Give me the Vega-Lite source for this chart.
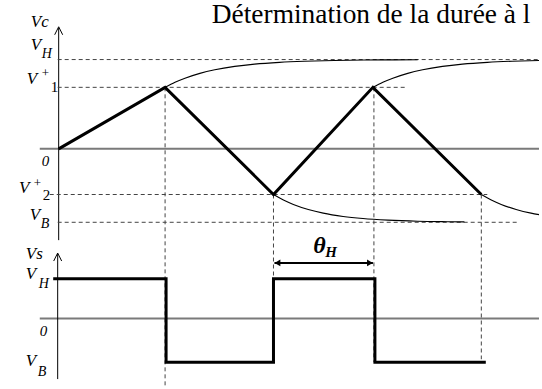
{
  "$schema": "https://vega.github.io/schema/vega-lite/v6.json",
  "width": 542,
  "height": 389,
  "autosize": {"type": "fit", "contains": "padding"},
  "padding": 0,
  "background": "white",
  "config": {"view": {"stroke": null}},
  "datasets": {
    "zeroLines": [
      {"x": -19, "x2": 483, "y": 0},
      {"x": -19, "x2": 483, "y": -171}
    ],
    "axisLines": [
      {"x": 0, "y": -92, "y2": 122},
      {"x": -1, "y": -232, "y2": -106}
    ],
    "axisTips": [
      {"x": 0, "y": 119},
      {"x": -1, "y": -109}
    ],
    "levels": [
      {"name": "VH", "x": -1, "x2": 483, "y": 90},
      {"name": "V1", "x": -1, "x2": 348, "y": 62},
      {"name": "V2", "x": -9, "x2": 431, "y": -46},
      {"name": "VB", "x": -1, "x2": 463, "y": -74}
    ],
    "switchTimes": [
      {"x": 107, "y": 62, "y2": -241},
      {"x": 216, "y": -46, "y2": -131},
      {"x": 317, "y": 62, "y2": -215},
      {"x": 425, "y": -46, "y2": -212}
    ],
    "vc": [
      {"i": 0, "x": 0, "y": 0},
      {"i": 1, "x": 107, "y": 62},
      {"i": 2, "x": 216, "y": -46},
      {"i": 3, "x": 316, "y": 62},
      {"i": 4, "x": 425, "y": -46}
    ],
    "charge": [
      {"id": "A", "i": 0, "x": 107, "y": 62},
      {"id": "A", "i": 1, "x": 117, "y": 67.1},
      {"id": "A", "i": 2, "x": 127, "y": 71.2},
      {"id": "A", "i": 3, "x": 142, "y": 76.1},
      {"id": "A", "i": 4, "x": 157, "y": 79.7},
      {"id": "A", "i": 5, "x": 177, "y": 83.1},
      {"id": "A", "i": 6, "x": 197, "y": 85.4},
      {"id": "A", "i": 7, "x": 222, "y": 87.2},
      {"id": "A", "i": 8, "x": 247, "y": 88.3},
      {"id": "A", "i": 9, "x": 277, "y": 89.1},
      {"id": "A", "i": 10, "x": 307, "y": 89.5},
      {"id": "A", "i": 11, "x": 337, "y": 89.7},
      {"id": "A", "i": 12, "x": 361, "y": 89.8},
      {"id": "B", "i": 0, "x": 316, "y": 62},
      {"id": "B", "i": 1, "x": 326, "y": 67.1},
      {"id": "B", "i": 2, "x": 336, "y": 71.2},
      {"id": "B", "i": 3, "x": 351, "y": 76.1},
      {"id": "B", "i": 4, "x": 366, "y": 79.7},
      {"id": "B", "i": 5, "x": 386, "y": 83.1},
      {"id": "B", "i": 6, "x": 406, "y": 85.4},
      {"id": "B", "i": 7, "x": 431, "y": 87.2},
      {"id": "B", "i": 8, "x": 456, "y": 88.3},
      {"id": "B", "i": 9, "x": 483, "y": 89.0},
      {"id": "C", "i": 0, "x": 216, "y": -46},
      {"id": "C", "i": 1, "x": 226, "y": -51.6},
      {"id": "C", "i": 2, "x": 236, "y": -56.0},
      {"id": "C", "i": 3, "x": 251, "y": -61.1},
      {"id": "C", "i": 4, "x": 266, "y": -64.8},
      {"id": "C", "i": 5, "x": 286, "y": -68.1},
      {"id": "C", "i": 6, "x": 306, "y": -70.2},
      {"id": "C", "i": 7, "x": 331, "y": -71.8},
      {"id": "C", "i": 8, "x": 361, "y": -72.9},
      {"id": "C", "i": 9, "x": 391, "y": -73.4},
      {"id": "C", "i": 10, "x": 408, "y": -73.6},
      {"id": "D", "i": 0, "x": 425, "y": -46},
      {"id": "D", "i": 1, "x": 435, "y": -51.6},
      {"id": "D", "i": 2, "x": 445, "y": -56.0},
      {"id": "D", "i": 3, "x": 460, "y": -61.1},
      {"id": "D", "i": 4, "x": 475, "y": -64.8},
      {"id": "D", "i": 5, "x": 483, "y": -66.3}
    ],
    "vs": [
      {"i": 0, "x": -4, "y": -131},
      {"i": 1, "x": 108, "y": -131},
      {"i": 2, "x": 108, "y": -215},
      {"i": 3, "x": 216, "y": -215},
      {"i": 4, "x": 216, "y": -131},
      {"i": 5, "x": 318, "y": -131},
      {"i": 6, "x": 318, "y": -215},
      {"i": 7, "x": 428, "y": -215}
    ],
    "span": [{"x": 217, "x2": 316, "y": -115}],
    "spanEnds": [
      {"x": 220, "y": -115, "dir": "left"},
      {"x": 313, "y": -115, "dir": "right"}
    ],
    "mainLabels": [
      {"text": "Vc", "x": -28, "y": 123},
      {"text": "V", "x": -28, "y": 100},
      {"text": "V", "x": -32, "y": 65},
      {"text": "V", "x": -40, "y": -44},
      {"text": "V", "x": -29, "y": -72},
      {"text": "Vs", "x": -33, "y": -111},
      {"text": "V", "x": -33, "y": -131},
      {"text": "V", "x": -33, "y": -219}
    ],
    "zeroLabels": [
      {"text": "0", "x": -17, "y": -17},
      {"text": "0", "x": -19, "y": -189}
    ],
    "subLabels": [
      {"text": "H", "x": -17, "y": 92},
      {"text": "B", "x": -18, "y": -80},
      {"text": "H", "x": -20, "y": -140},
      {"text": "B", "x": -21, "y": -229}
    ],
    "plusLabels": [
      {"text": "+", "x": -17, "y": 72},
      {"text": "+", "x": -25, "y": -38}
    ],
    "indexLabels": [
      {"text": "1", "x": -8, "y": 57},
      {"text": "2", "x": -16, "y": -52}
    ],
    "title": [{"text": "Détermination de la durée à l", "x": 154, "y": 127}],
    "theta": [{"text": "θ", "x": 256, "y": -105}],
    "thetaSub": [{"text": "H", "x": 268, "y": -109}]
  },
  "encoding": {
    "x": {"field": "x", "type": "quantitative", "scale": {"domain": [-59, 483], "nice": false, "zero": false}, "axis": null},
    "y": {"field": "y", "type": "quantitative", "scale": {"domain": [-241, 148], "nice": false, "zero": false}, "axis": null}
  },
  "layer": [
    {
      "data": {"name": "zeroLines"},
      "mark": {"type": "rule", "color": "#7a7a7a", "strokeWidth": 2},
      "encoding": {"x2": {"field": "x2"}}
    },
    {
      "data": {"name": "axisLines"},
      "mark": {"type": "rule", "color": "black", "strokeWidth": 1},
      "encoding": {"y2": {"field": "y2"}}
    },
    {
      "data": {"name": "axisTips"},
      "mark": {"type": "point", "shape": "M-1,1L0,-1L1,1", "filled": false, "stroke": "black", "strokeWidth": 1, "size": 64, "opacity": 1}
    },
    {
      "data": {"name": "levels"},
      "mark": {"type": "rule", "color": "#444444", "strokeWidth": 1, "strokeDash": [4, 3]},
      "encoding": {"x2": {"field": "x2"}}
    },
    {
      "data": {"name": "switchTimes"},
      "mark": {"type": "rule", "color": "#444444", "strokeWidth": 1, "strokeDash": [4, 3]},
      "encoding": {"y2": {"field": "y2"}}
    },
    {
      "data": {"name": "charge"},
      "mark": {"type": "line", "color": "black", "strokeWidth": 1.1, "interpolate": "monotone"},
      "encoding": {"detail": {"field": "id"}, "order": {"field": "i", "type": "quantitative"}}
    },
    {
      "data": {"name": "vc"},
      "mark": {"type": "line", "color": "black", "strokeWidth": 3, "strokeJoin": "miter"},
      "encoding": {"order": {"field": "i", "type": "quantitative"}}
    },
    {
      "data": {"name": "vs"},
      "mark": {"type": "line", "color": "black", "strokeWidth": 3, "strokeJoin": "miter", "strokeCap": "square"},
      "encoding": {"order": {"field": "i", "type": "quantitative"}}
    },
    {
      "data": {"name": "span"},
      "mark": {"type": "rule", "color": "black", "strokeWidth": 2},
      "encoding": {"x2": {"field": "x2"}}
    },
    {
      "data": {"name": "spanEnds"},
      "mark": {"type": "point", "filled": true, "color": "black", "size": 45, "opacity": 1},
      "encoding": {
        "shape": {"field": "dir", "type": "nominal", "scale": {"domain": ["left", "right"], "range": ["triangle-left", "triangle-right"]}, "legend": null}
      }
    },
    {
      "data": {"name": "title"},
      "mark": {"type": "text", "font": "Liberation Serif", "fontSize": 27.4, "align": "left", "baseline": "alphabetic", "color": "black"},
      "encoding": {"text": {"field": "text"}}
    },
    {
      "data": {"name": "mainLabels"},
      "mark": {"type": "text", "font": "Liberation Serif", "fontStyle": "italic", "fontSize": 17, "align": "left", "baseline": "alphabetic", "color": "black"},
      "encoding": {"text": {"field": "text"}}
    },
    {
      "data": {"name": "zeroLabels"},
      "mark": {"type": "text", "font": "Liberation Serif", "fontStyle": "italic", "fontSize": 15, "align": "left", "baseline": "alphabetic", "color": "black"},
      "encoding": {"text": {"field": "text"}}
    },
    {
      "data": {"name": "subLabels"},
      "mark": {"type": "text", "font": "Liberation Serif", "fontStyle": "italic", "fontSize": 14, "align": "left", "baseline": "alphabetic", "color": "black"},
      "encoding": {"text": {"field": "text"}}
    },
    {
      "data": {"name": "plusLabels"},
      "mark": {"type": "text", "font": "Liberation Serif", "fontSize": 13, "align": "left", "baseline": "alphabetic", "color": "black"},
      "encoding": {"text": {"field": "text"}}
    },
    {
      "data": {"name": "indexLabels"},
      "mark": {"type": "text", "font": "Liberation Serif", "fontSize": 15, "align": "left", "baseline": "alphabetic", "color": "black"},
      "encoding": {"text": {"field": "text"}}
    },
    {
      "data": {"name": "theta"},
      "mark": {"type": "text", "font": "Liberation Serif", "fontStyle": "italic", "fontWeight": "bold", "fontSize": 24, "align": "left", "baseline": "alphabetic", "color": "black"},
      "encoding": {"text": {"field": "text"}}
    },
    {
      "data": {"name": "thetaSub"},
      "mark": {"type": "text", "font": "Liberation Serif", "fontStyle": "italic", "fontWeight": "bold", "fontSize": 15, "align": "left", "baseline": "alphabetic", "color": "black"},
      "encoding": {"text": {"field": "text"}}
    }
  ]
}
